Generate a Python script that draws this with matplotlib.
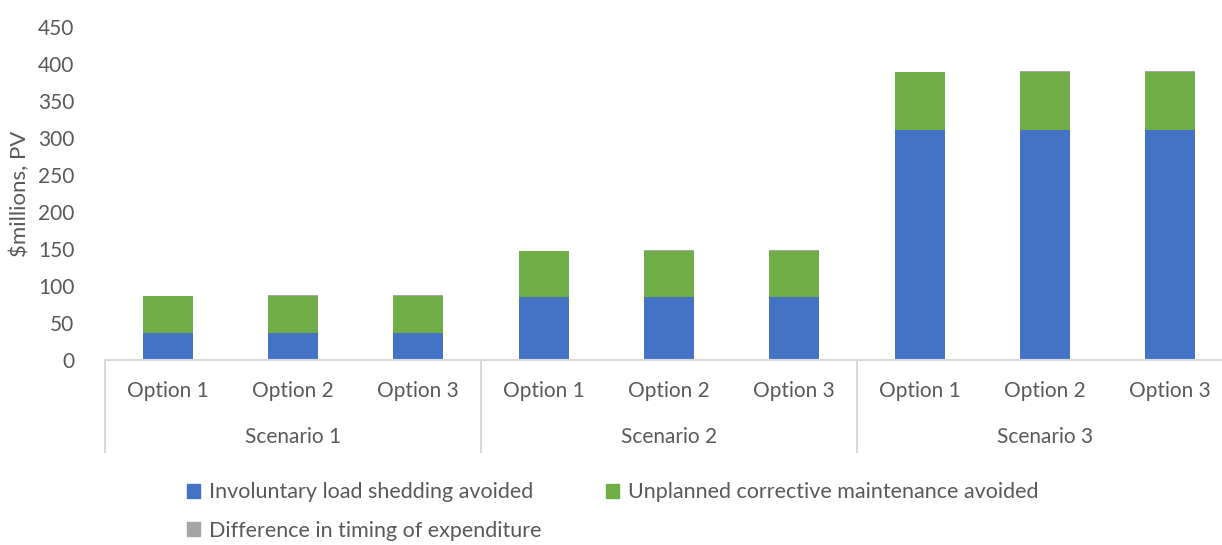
import matplotlib.pyplot as plt
from matplotlib.patches import Patch

scenarios = ['Scenario 1', 'Scenario 2', 'Scenario 3']
options = ['Option 1', 'Option 2', 'Option 3']
load_shedding = [36.5, 36.5, 36.5, 85, 85, 85, 311, 311, 311]
maintenance = [50, 50, 50, 62, 62, 62, 78, 78, 78]
timing = [0, 1.5, 1.5, 0, 1.5, 1.5, 0, 1.5, 1.5]
labels = ['Involuntary load shedding avoided',
          'Unplanned corrective maintenance avoided',
          'Difference in timing of expenditure']
colors = ['#4472C4', '#70AD47', '#A5A5A5']
text_col = '#595959'
line_col = '#D9D9D9'

plt.rcParams['font.family'] = ['Lato', 'DejaVu Sans']

fig = plt.figure(figsize=(12.22, 5.45), dpi=100)
W, H = 1222, 545
ax = fig.add_axes([105 / W, 1 - 360 / H, 1128 / W, (360 - 27) / H])

x = list(range(len(load_shedding)))
bottom2 = load_shedding
bottom3 = [a + b for a, b in zip(load_shedding, maintenance)]
ax.bar(x, load_shedding, width=0.4, color=colors[0])
ax.bar(x, maintenance, width=0.4, bottom=bottom2, color=colors[1])
ax.bar(x, timing, width=0.4, bottom=bottom3, color=colors[2])

ax.set_xlim(-0.5, 8.5)
ax.set_ylim(0, 450)
ax.set_yticks(range(0, 451, 50))
ax.tick_params(axis='y', length=0, labelsize=15, labelcolor=text_col, pad=22)
ax.set_xticks([])
for s in ['top', 'right', 'left']:
    ax.spines[s].set_visible(False)
ax.spines['bottom'].set_color(line_col)
ax.spines['bottom'].set_linewidth(1.5)
ax.set_ylabel('$millions, PV', fontsize=16, color=text_col, labelpad=6)

# multi-level category labels
trans = ax.get_xaxis_transform()
for i in x:
    ax.text(i, -31 / 333, options[i % 3], transform=trans, ha='center',
            va='center', fontsize=15, color=text_col)
for j, sc in enumerate(scenarios):
    ax.text(3 * j + 1, -77 / 333, sc, transform=trans, ha='center',
            va='center', fontsize=15, color=text_col)
for xs in [-0.5, 2.5, 5.5, 8.5]:
    ax.plot([xs, xs], [0, -92 / 333], transform=trans, color=line_col,
            lw=1.5, clip_on=False)

# legend fills row by row: blue, green / gray
order = [0, 2, 1]
handles = [Patch(color=colors[k], label=labels[k]) for k in order]
fig.legend(handles=handles, loc='upper left', bbox_to_anchor=(168 / W, 1 - 463 / H),
           ncol=2, frameon=False, fontsize=15.5, labelcolor=text_col,
           handlelength=0.6, handleheight=0.6, handletextpad=0.4,
           columnspacing=3.0, labelspacing=0.85)

fig.savefig('out.png', dpi=100)
